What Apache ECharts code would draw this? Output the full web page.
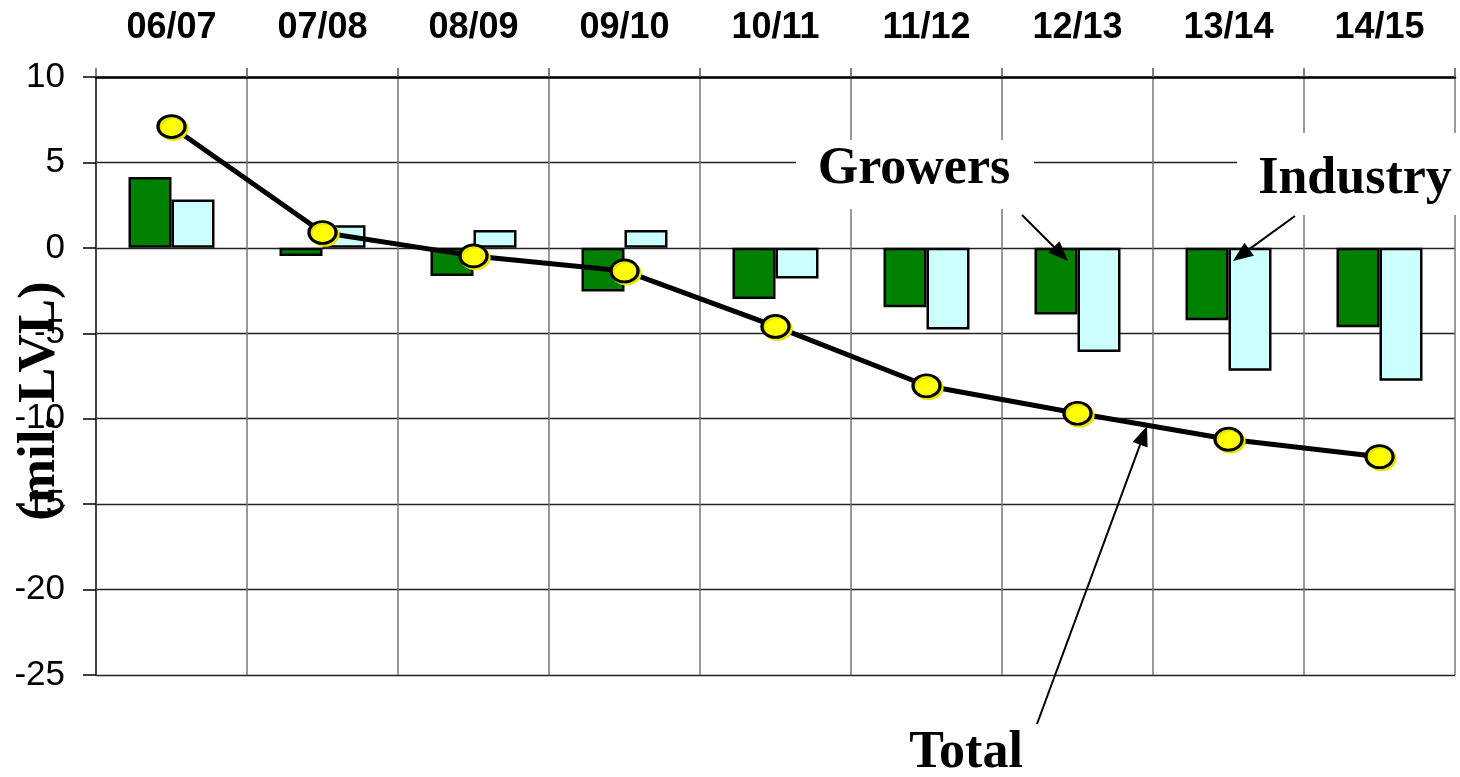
<!DOCTYPE html>
<html>
<head>
<meta charset="utf-8">
<script src="https://cdn.jsdelivr.net/npm/echarts@6/dist/echarts.min.js"></script>
<style>
  html, body { margin: 0; padding: 0; background: #fff; }
  #chart { width: 1460px; height: 777px; }
</style>
</head>
<body>
<div id="chart"></div>
<script>
// Marketing years
const categories = ['06/07', '07/08', '08/09', '09/10', '10/11', '11/12', '12/13', '13/14', '14/15'];
// Change, mil. LVL
const growers  = [4.15, -0.47, -1.65, -2.55, -3.0, -3.47, -3.9, -4.23, -4.65];
const industry = [2.83, 1.33, 1.05, 1.05, -1.8, -4.78, -6.1, -7.2, -7.78];
const total    = [7.1, 0.9, -0.47, -1.35, -4.6, -8.07, -9.68, -11.2, -12.22];

const yMin = -25, yMax = 10, yStep = 5;

const chart = echarts.init(document.getElementById('chart'), null, { renderer: 'canvas' });

// Arrow made of a shaft and a filled head
function arrow(x1, y1, x2, y2) {
  const dx = x2 - x1, dy = y2 - y1;
  const len = Math.sqrt(dx * dx + dy * dy);
  const ux = dx / len, uy = dy / len;
  const hl = 20, hw = 8;
  const bx = x2 - ux * hl, by = y2 - uy * hl;
  return [
    { type: 'line', z: 100, shape: { x1: x1, y1: y1, x2: bx + ux * 2, y2: by + uy * 2 }, style: { stroke: '#000', lineWidth: 2 } },
    { type: 'polygon', z: 100, shape: { points: [[x2, y2], [bx - uy * hw, by + ux * hw], [bx + uy * hw, by - ux * hw]] }, style: { fill: '#000' } }
  ];
}

function label(text, x, y) {
  return {
    type: 'text', z: 101, x: x, y: y,
    style: { text: text, fill: '#000', font: 'bold 52px "Liberation Serif"', align: 'center', verticalAlign: 'middle' }
  };
}

const ellipse = 'path://M0,10 A10,10 0 1,1 20,10 A10,10 0 1,1 0,10 Z';

chart.setOption({
  animation: false,
  backgroundColor: '#fff',
  grid: { left: 96, right: 5, top: 77, bottom: 102, containLabel: false },
  xAxis: {
    type: 'category',
    position: 'top',
    data: categories,
    boundaryGap: true,
    axisLine: { show: true, onZero: false, lineStyle: { color: '#000', width: 2.5 } },
    axisTick: { show: true, length: 9, lineStyle: { color: '#555', width: 1.5 } },
    splitLine: { show: true, lineStyle: { color: '#777', width: 1.5 } },
    axisLabel: { color: '#000', fontFamily: '"Liberation Sans"', fontWeight: 'bold', fontSize: 36, margin: 31 }
  },
  yAxis: {
    type: 'value',
    min: yMin, max: yMax, interval: yStep,
    axisLine: { show: true, lineStyle: { color: '#444', width: 2 } },
    axisTick: { show: true, length: 13, lineStyle: { color: '#000', width: 1.5 } },
    splitLine: { show: true, lineStyle: { color: '#222', width: 1.3 } },
    axisLabel: { color: '#000', fontFamily: '"Liberation Sans"', fontSize: 35, margin: 31 }
  },
  series: [
    {
      name: 'Growers', type: 'bar', data: growers,
      barWidth: 43, barGap: '0%',
      itemStyle: { color: '#008000', borderColor: '#000', borderWidth: 2.5 },
      z: 2
    },
    {
      name: 'Industry', type: 'bar', data: industry,
      barWidth: 43, barGap: '0%',
      itemStyle: { color: '#CCFFFF', borderColor: '#000', borderWidth: 2.5 },
      z: 2
    },
    {
      name: 'Total', type: 'line', data: total,
      symbol: ellipse, symbolSize: [27, 22],
      lineStyle: { color: '#000', width: 5 },
      itemStyle: {
        color: '#FFFF00', borderColor: '#000', borderWidth: 3,
        shadowColor: '#E6E600', shadowBlur: 0, shadowOffsetX: 2, shadowOffsetY: 2
      },
      z: 5
    }
  ],
  graphic: [
    // axis title
    {
      type: 'text', z: 101, x: 40, y: 401, rotation: Math.PI / 2,
      style: { text: '(mil. LVL)', fill: '#000', font: 'bold 53px "Liberation Serif"', align: 'center', verticalAlign: 'middle' }
    },
    // label backgrounds
    { type: 'rect', z: 99, shape: { x: 796, y: 140, width: 238, height: 69 }, style: { fill: '#fff' } },
    { type: 'rect', z: 99, shape: { x: 1237, y: 133, width: 223, height: 82 }, style: { fill: '#fff' } },
    label('Growers', 914, 170),
    label('Industry', 1355, 180),
    label('Total', 966, 754),
    ...arrow(1022, 215, 1068, 261),
    ...arrow(1295, 216, 1233, 261),
    ...arrow(1037, 724, 1147, 426)
  ]
});
</script>
</body>
</html>
